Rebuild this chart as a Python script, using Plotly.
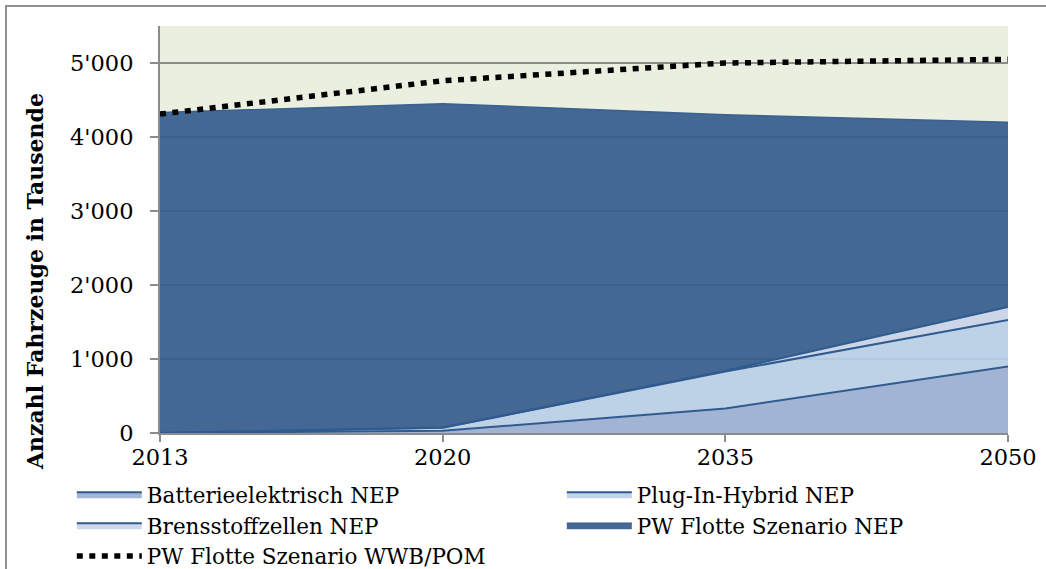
import plotly.graph_objects as go

# Jahre (Kategorien der x-Achse)
years = ["2013", "2020", "2035", "2050"]

# Fahrzeugbestand in Tausend
batterie_nep = [0, 30, 330, 900]
plugin_nep = [0, 40, 500, 627]
brennstoff_nep = [0, 5, 10, 176]
flotte_nep_total = [4330, 4450, 4300, 4200]
flotte_wwb_pom = [4310, 4760, 5000, 5050]

y_ticks = [0, 1000, 2000, 3000, 4000, 5000]

# Restbestand der konventionellen Flotte oberhalb der Elektro-Anteile
flotte_rest = [t - b - p - f for t, b, p, f in
               zip(flotte_nep_total, batterie_nep, plugin_nep, brennstoff_nep)]

LINE_BLUE = "#2f5b8f"
FONT = "DejaVu Serif"

fig = go.Figure()

fig.add_trace(go.Scatter(
    x=years, y=batterie_nep, name="Batterieelektrisch NEP",
    stackgroup="nep", mode="lines",
    line=dict(color=LINE_BLUE, width=2),
    fillcolor="rgba(154,173,211,0.9)", legendrank=1,
))
fig.add_trace(go.Scatter(
    x=years, y=plugin_nep, name="Plug-In-Hybrid NEP",
    stackgroup="nep", mode="lines",
    line=dict(color=LINE_BLUE, width=2),
    fillcolor="rgba(185,206,232,0.9)", legendrank=2,
))
fig.add_trace(go.Scatter(
    x=years, y=brennstoff_nep, name="Brensstoffzellen NEP",
    stackgroup="nep", mode="lines",
    line=dict(color=LINE_BLUE, width=2),
    fillcolor="rgba(202,211,233,0.9)", legendrank=3,
))
fig.add_trace(go.Scatter(
    x=years, y=flotte_rest, name="PW Flotte Szenario NEP",
    stackgroup="nep", mode="lines",
    line=dict(color="#3a6191", width=1.5),
    fillcolor="rgba(52,92,140,0.92)", legendrank=4,
))
fig.add_trace(go.Scatter(
    x=years, y=flotte_wwb_pom, name="PW Flotte Szenario WWB/POM",
    mode="lines",
    line=dict(color="black", width=5.5, dash="6px,6.5px"),
    legendrank=5,
))

# Rahmen um die gesamte Grafik
fig.add_shape(type="rect", xref="paper", yref="paper",
              x0=-0.1816, x1=2, y0=-1, y1=1.049,
              line=dict(color="#8f8f8f", width=2), layer="below")

# Achsentitel der y-Achse
fig.add_annotation(
    text="<b>Anzahl Fahrzeuge in Tausende</b>",
    xref="paper", yref="paper", x=-0.1474, y=0.371,
    xanchor="center", yanchor="middle", textangle=-90,
    showarrow=False, font=dict(family=FONT, size=22, color="black"),
)

fig.update_layout(
    width=1046, height=569,
    margin=dict(l=160, r=38, t=26, b=136, autoexpand=False),
    paper_bgcolor="white",
    plot_bgcolor="#ebefdf",
    separators=".'",
    font=dict(family=FONT, size=22, color="black"),
    showlegend=True,
    legend=dict(
        orientation="h", traceorder="normal",
        x=-0.104, xanchor="left", y=-0.100, yanchor="top",
        entrywidth=410, entrywidthmode="pixels",
        itemwidth=65, tracegroupgap=0,
        font=dict(family=FONT, size=21.5, color="black"),
        bgcolor="rgba(0,0,0,0)",
    ),
    xaxis=dict(
        type="category", range=[0, 3],
        showgrid=False, showline=True, linecolor="#8c8c8c", linewidth=2,
        ticks="outside", ticklen=7, tickwidth=2, tickcolor="#8c8c8c",
        ticklabelstandoff=-4,
        tickfont=dict(family=FONT, size=22.5),
    ),
    yaxis=dict(
        range=[0, 5500], tickvals=y_ticks, tickformat=",d",
        showgrid=True, gridcolor="#8c8c8c", gridwidth=2,
        showline=True, linecolor="#8c8c8c", linewidth=2,
        ticks="outside", ticklen=8, tickwidth=2, tickcolor="#8c8c8c",
        ticklabelstandoff=12, zeroline=False,
        tickfont=dict(family=FONT, size=22.5),
    ),
)

fig.write_html("out.html")
